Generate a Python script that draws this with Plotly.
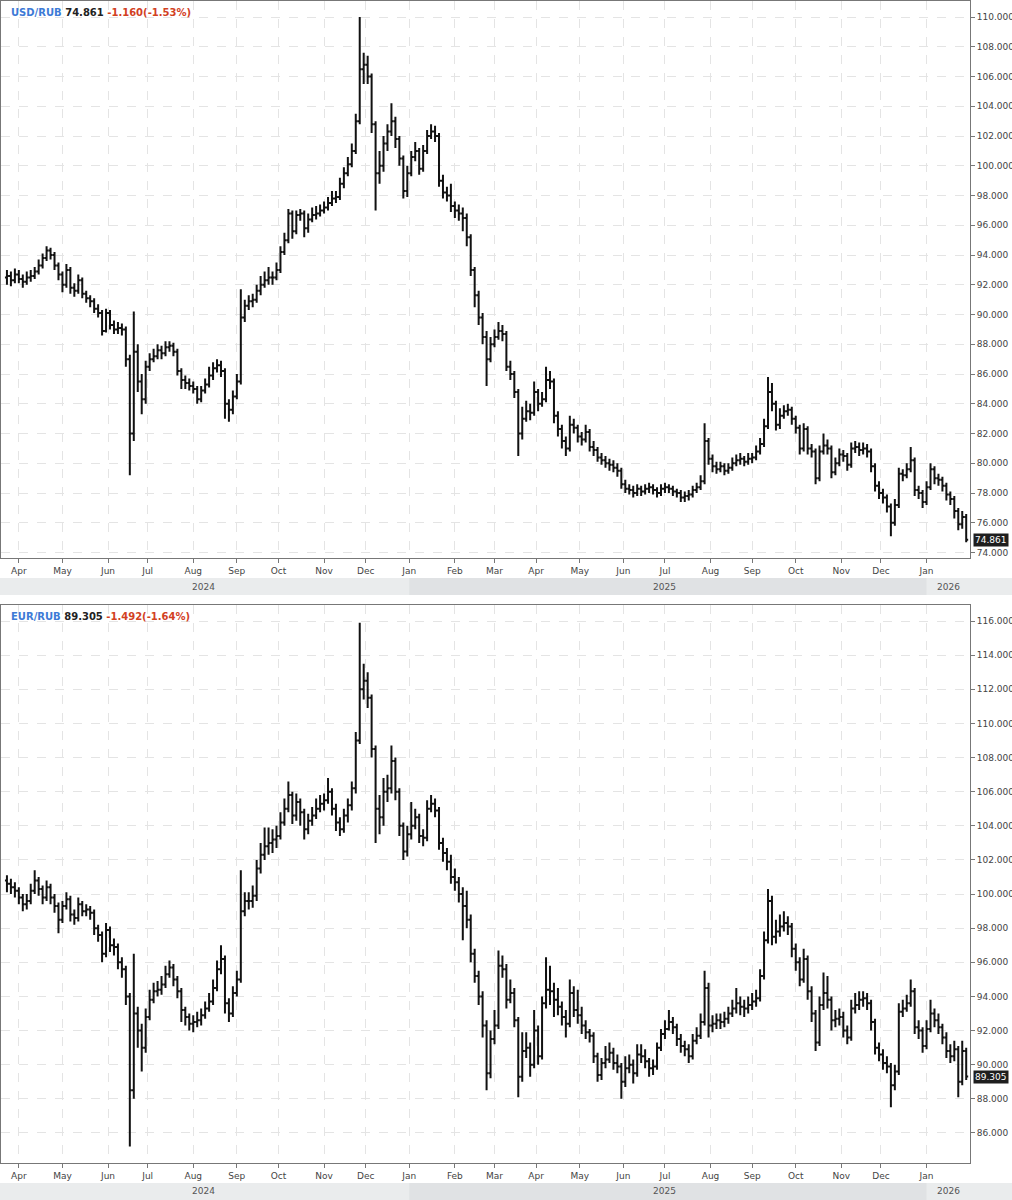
"""USD/RUB and EUR/RUB bar charts"""
import pandas as pd
import plotly.graph_objects as go

FONT = "DejaVu Sans"
END_DATE = "2026-01-29"

# one bar = two trading days
usd_close = [
    92.6, 92.3, 92.7, 92.4, 92.2, 92.5, 92.6, 92.9, 93.3, 93.8,
    94.3, 94.0, 93.3, 92.7, 92.0, 93.0, 91.8, 91.6, 92.3, 91.4,
    91.1, 90.9, 90.4, 90.1, 88.9, 90.1, 89.3, 89.0, 89.1, 89.0,
    87.0, 82.0, 87.5, 85.5, 84.3, 86.5, 87.0, 87.2, 87.6, 87.4,
    87.8, 87.9, 87.5, 86.2, 85.6, 85.4, 85.2, 85.0, 84.3, 84.9,
    85.3, 85.9, 86.4, 86.6, 86.2, 84.0, 83.6, 84.5, 85.5, 89.8,
    90.6, 90.9, 91.0, 91.6, 92.0, 92.3, 92.5, 92.5, 93.0, 94.2,
    95.0, 96.8, 95.6, 96.7, 96.8, 95.8, 96.4, 96.7, 96.8, 97.0,
    97.2, 97.5, 97.8, 97.9, 98.8, 99.5, 100.1, 101.0, 103.0, 106.5,
    106.8, 106.0, 102.8, 99.5, 100.0, 101.5, 102.3, 103.0, 101.8, 100.5,
    98.3, 99.5, 100.6, 101.0, 99.8, 101.0, 102.0, 102.3, 102.0, 99.0,
    98.2, 98.0, 97.3, 97.0, 96.8, 96.5, 95.2, 93.0, 91.3, 89.8,
    88.5, 87.0, 88.0, 88.5, 88.9, 88.7, 86.5, 86.0, 84.8, 82.0,
    83.0, 83.5, 83.4, 84.8, 84.0, 84.3, 85.6, 85.5, 83.2, 82.3,
    81.5, 81.0, 82.6, 82.4, 81.8, 81.6, 82.1, 81.1, 80.9, 80.4,
    80.2, 80.0, 79.9, 79.7, 79.5, 78.6, 78.3, 78.2, 78.0, 78.3,
    78.1, 78.3, 78.4, 78.2, 78.0, 78.3, 78.4, 78.3, 78.1, 78.0,
    77.7, 77.8, 77.9, 78.2, 78.4, 78.8, 81.5, 80.3, 79.8, 79.6,
    79.8, 79.5, 79.7, 80.0, 80.2, 80.3, 80.1, 80.3, 80.4, 80.8,
    81.3, 82.5, 84.8, 84.0, 82.6, 83.2, 83.5, 83.6, 83.0, 82.4,
    81.0, 82.3, 81.0, 80.8, 79.0, 80.8, 81.2, 81.0, 79.4, 80.0,
    80.6, 80.5, 79.9, 81.0, 81.1, 80.9, 81.0, 80.8, 79.8, 78.5,
    78.0, 77.7, 77.1, 76.0, 77.2, 79.3, 79.2, 79.6, 80.2, 78.2,
    78.0, 77.4, 78.4, 79.6, 79.0, 78.9, 78.5, 77.9, 77.6, 76.8,
    75.9, 76.4, 74.861,
]
usd_high = [
    93.0, 92.9, 93.1, 93.0, 92.7, 92.9, 93.0, 93.2, 93.7, 94.1,
    94.6, 94.5, 94.2, 93.5, 92.9, 93.4, 93.2, 92.1, 92.7, 92.5,
    91.6, 91.3, 91.1, 90.7, 90.3, 90.4, 90.3, 89.6, 89.5, 89.4,
    89.2, 87.3, 90.2, 88.0, 86.0, 86.9, 87.4, 87.7, 88.0, 87.9,
    88.2, 88.2, 88.1, 87.7, 86.4, 85.9, 85.7, 85.5, 85.2, 85.2,
    85.7, 86.5, 86.8, 87.0, 86.9, 86.4, 84.3, 84.9, 86.0, 91.7,
    91.0, 91.3, 91.4, 92.0, 92.6, 92.9, 93.2, 92.9, 93.5, 94.6,
    95.5, 97.1, 97.0, 97.0, 97.1, 97.0, 96.8, 97.2, 97.3, 97.4,
    97.6, 97.9, 98.3, 98.3, 99.2, 99.9, 100.6, 101.5, 103.5, 110.0,
    107.6, 107.4, 106.2, 103.0, 101.0, 102.0, 102.8, 104.2, 103.3, 102.0,
    100.7, 100.0, 101.0, 101.6, 101.2, 101.4, 102.4, 102.8, 102.7, 102.2,
    99.4, 98.6, 98.8, 97.6, 97.4, 97.2, 96.8, 95.4, 93.2, 91.6,
    90.1, 88.9, 88.5, 89.0, 89.5, 89.3, 88.9, 86.9, 86.2, 85.0,
    83.8, 84.2, 84.0, 85.5, 85.0, 84.8, 86.5, 86.2, 85.7, 83.5,
    82.6, 81.8, 83.2, 83.0, 82.6, 82.1, 82.6, 82.3, 81.5, 81.1,
    80.7, 80.5, 80.3, 80.2, 80.0, 79.7, 78.9, 78.6, 78.5, 78.6,
    78.5, 78.6, 78.7, 78.6, 78.4, 78.6, 78.7, 78.6, 78.5, 78.3,
    78.2, 78.1, 78.2, 78.5, 78.7, 79.2, 82.7, 81.7, 80.6, 80.1,
    80.1, 80.0, 80.0, 80.4, 80.6, 80.7, 80.5, 80.7, 80.7, 81.2,
    81.7, 83.0, 85.8, 85.4, 84.2, 83.7, 83.9, 84.0, 83.8, 83.2,
    82.6, 82.7, 82.5, 81.3, 81.0, 81.2, 82.0, 81.6, 81.2, 80.4,
    81.0, 80.9, 80.7, 81.4, 81.5, 81.4, 81.4, 81.3, 81.0, 80.0,
    78.8, 78.3, 77.9, 77.3, 77.6, 79.7, 79.6, 80.0, 81.1, 80.4,
    78.5, 78.2, 78.8, 80.0, 79.8, 79.3, 79.1, 78.7, 78.1, 77.8,
    77.0, 76.8, 76.6,
]
usd_low = [
    92.0, 91.9, 92.1, 92.1, 91.8, 92.0, 92.2, 92.4, 92.7, 93.1,
    93.6, 93.7, 93.0, 92.3, 91.5, 91.8, 91.4, 91.2, 91.4, 91.1,
    90.8, 90.5, 90.1, 89.8, 88.6, 88.8, 89.0, 88.7, 88.7, 88.6,
    86.5, 79.2, 81.5, 84.8, 83.3, 84.0, 86.2, 86.8, 87.0, 87.0,
    87.2, 87.5, 87.2, 85.9, 85.0, 85.0, 84.9, 84.7, 84.0, 84.1,
    84.7, 85.1, 85.6, 86.1, 85.8, 83.0, 82.8, 83.3, 84.3, 85.3,
    89.5, 90.3, 90.5, 90.8, 91.3, 91.8, 92.0, 92.0, 92.3, 92.8,
    94.0, 94.8, 95.1, 95.4, 96.3, 95.2, 95.5, 96.2, 96.4, 96.6,
    96.8, 97.0, 97.3, 97.5, 97.7, 98.5, 99.3, 99.9, 100.8, 102.8,
    105.5, 105.5, 102.2, 97.0, 98.8, 99.6, 101.0, 102.0, 101.2, 100.0,
    97.8, 97.9, 99.3, 100.3, 99.4, 99.6, 100.8, 101.8, 101.6, 98.6,
    97.8, 97.6, 96.9, 96.5, 96.3, 95.6, 94.6, 92.6, 90.5, 89.3,
    88.0, 85.2, 86.8, 87.8, 88.3, 88.2, 86.2, 85.6, 84.4, 80.5,
    81.6, 82.8, 82.9, 83.2, 83.5, 83.8, 84.1, 85.0, 82.7, 81.8,
    81.0, 80.5, 80.8, 82.0, 81.4, 81.2, 81.4, 80.8, 80.5, 80.1,
    79.9, 79.7, 79.5, 79.4, 79.1, 78.3, 78.0, 77.9, 77.7, 77.8,
    77.8, 77.9, 78.0, 77.9, 77.7, 77.8, 78.0, 78.0, 77.8, 77.7,
    77.4, 77.4, 77.5, 77.7, 78.0, 78.2, 78.6, 79.9, 79.4, 79.3,
    79.4, 79.2, 79.3, 79.5, 79.8, 79.9, 79.8, 79.9, 80.0, 80.2,
    80.6, 81.1, 82.3, 83.5, 82.2, 82.3, 83.0, 83.2, 82.6, 82.0,
    80.6, 80.8, 80.6, 80.4, 78.6, 78.8, 80.6, 80.6, 79.0, 79.2,
    79.8, 80.1, 79.5, 79.7, 80.7, 80.5, 80.6, 80.4, 79.4, 78.1,
    77.6, 77.3, 76.7, 75.1, 75.8, 77.0, 78.8, 79.0, 79.4, 77.8,
    77.6, 77.0, 77.2, 78.2, 78.6, 78.5, 78.1, 77.5, 77.2, 76.3,
    75.5, 75.6, 74.7,
]

eur_close = [
    100.6, 100.4, 100.2, 99.8, 99.4, 99.6, 100.2, 100.8, 100.3, 99.8,
    100.4, 99.8, 99.3, 98.5, 99.3, 99.7, 98.8, 98.6, 99.4, 99.0,
    99.1, 98.9, 98.0, 97.6, 96.5, 97.9, 97.0, 96.9, 96.0, 95.6,
    94.0, 88.5, 93.0, 92.0, 91.0, 92.8, 93.8, 94.3, 94.4, 94.7,
    95.3, 95.7, 95.0, 94.3, 93.2, 92.8, 92.4, 92.5, 92.6, 92.9,
    93.3, 93.7, 94.5, 95.6, 96.2, 93.6, 93.0, 94.2, 95.0, 99.0,
    99.6, 99.6, 99.9, 101.5, 102.3, 102.8, 103.0, 103.2, 103.4, 104.2,
    105.0, 105.8, 104.6, 105.4, 104.8, 103.8, 104.3, 104.6, 105.0, 105.3,
    105.5, 106.0, 105.0, 104.2, 103.8, 104.6, 105.2, 106.2, 109.0, 112.0,
    112.5, 111.5, 108.5, 105.0, 104.5, 106.0, 106.2, 107.8, 106.0, 104.0,
    102.5, 103.5, 104.0, 104.5, 103.4, 103.3, 105.0, 105.3, 104.9, 103.0,
    102.4, 101.9, 101.0, 100.7, 100.0, 99.3, 98.5, 96.5, 95.2, 94.0,
    92.3, 89.5, 91.5, 92.3, 95.8, 95.6, 93.8, 94.2, 92.6, 89.3,
    90.8, 91.0, 90.0, 92.0, 90.5, 93.6, 94.4, 94.3, 93.8, 93.4,
    92.8, 92.4, 94.2, 93.2, 92.9, 92.3, 91.9, 91.7, 90.5, 89.4,
    90.1, 90.3, 90.7, 90.1, 89.9, 89.0, 89.8, 90.0, 89.5, 90.6,
    90.5, 90.2, 89.8, 89.9, 91.0, 91.8, 92.1, 92.5, 92.2, 91.5,
    91.1, 90.9, 90.5, 91.4, 91.7, 92.5, 94.5, 92.3, 92.4, 92.6,
    92.5, 92.7, 93.0, 93.3, 93.6, 93.4, 93.3, 93.5, 93.7, 93.9,
    95.2, 97.3, 99.6, 97.5, 97.8, 98.1, 98.3, 98.1, 96.8, 96.0,
    95.0, 96.2, 94.3, 93.0, 91.3, 93.5, 94.2, 93.8, 92.6, 92.7,
    92.8, 92.0, 91.6, 93.3, 93.5, 93.8, 93.9, 93.6, 92.5, 91.0,
    90.6, 90.1, 89.9, 88.8, 89.6, 93.1, 93.3, 93.6, 94.3, 92.2,
    92.0, 91.1, 92.1, 93.0, 92.6, 92.2, 91.6, 90.8, 90.5, 90.9,
    89.0, 90.8, 89.305,
]
eur_high = [
    101.1, 100.9, 100.7, 100.4, 100.0, 100.0, 100.6, 101.4, 101.0, 100.5,
    100.8, 100.6, 100.0, 99.5, 99.6, 100.1, 99.9, 99.1, 99.8, 99.6,
    99.4, 99.3, 99.1, 98.2, 97.8, 98.3, 98.1, 97.4, 97.1, 96.3,
    95.8, 94.2, 96.5, 93.4, 92.4, 93.3, 94.4, 94.8, 94.9, 95.2,
    95.8, 96.1, 95.9, 95.2, 94.5, 93.4, 93.0, 92.9, 93.1, 93.3,
    93.7, 94.2, 95.0, 96.1, 97.0, 96.4, 93.9, 94.6, 95.5, 101.4,
    100.1, 100.1, 100.5, 102.0, 103.0, 103.9, 103.9, 103.8, 104.0, 104.8,
    105.6, 106.6, 106.0, 105.9, 105.6, 105.0, 104.7, 105.1, 105.6, 105.8,
    105.9, 106.8, 106.2, 105.3, 104.5, 105.0, 105.6, 106.6, 109.5, 115.9,
    113.5, 113.0, 111.7, 108.7, 105.8, 106.8, 107.0, 108.7, 108.0, 106.2,
    104.2, 104.0, 105.4, 105.0, 104.7, 103.8, 105.5, 105.8, 105.6, 105.1,
    103.3, 102.7, 102.3, 101.5, 101.0, 100.4, 100.2, 98.8, 96.8, 95.5,
    94.3, 92.6, 92.0, 93.2, 96.7, 96.4, 95.9, 95.0, 94.5, 92.8,
    91.9, 91.9, 91.3, 93.2, 92.3, 94.0, 96.3, 95.8, 94.8, 94.5,
    93.7, 93.2, 95.0, 94.6, 94.4, 93.4, 92.6, 92.1, 91.9, 90.7,
    90.4, 91.1, 91.3, 91.0, 90.6, 90.1, 90.5, 90.6, 90.3, 91.2,
    91.2, 90.9, 90.4, 90.3, 91.3, 92.1, 92.6, 93.2, 92.8, 92.4,
    91.8, 91.4, 91.2, 91.8, 92.2, 93.0, 95.5, 94.8, 92.9, 93.0,
    93.0, 93.1, 93.4, 93.8, 94.5, 94.0, 93.8, 94.0, 94.2, 94.4,
    95.6, 97.8, 100.3, 99.9, 98.5, 98.8, 99.0, 98.7, 98.3, 97.1,
    96.3, 96.8, 96.4, 94.6, 93.2, 94.0, 95.4, 95.2, 94.0, 93.2,
    93.3, 93.1, 92.3, 93.8, 94.2, 94.3, 94.3, 94.2, 93.8, 92.7,
    91.3, 90.9, 90.5, 90.1, 90.0, 93.6, 93.8, 94.1, 95.0, 94.5,
    92.6, 92.2, 92.6, 93.8, 93.3, 93.0, 92.4, 91.9, 91.2, 91.4,
    91.1, 91.4, 91.0,
]
eur_low = [
    100.1, 100.0, 99.8, 99.4, 99.0, 99.1, 99.4, 100.0, 99.9, 99.4,
    99.6, 99.4, 98.9, 97.7, 98.3, 99.1, 98.4, 98.2, 98.4, 98.7,
    98.7, 98.5, 97.6, 97.2, 96.0, 96.3, 96.6, 96.4, 95.6, 95.1,
    93.5, 85.2, 88.0, 91.0, 89.6, 90.7, 92.6, 93.6, 94.0, 94.1,
    94.5, 95.1, 94.6, 93.9, 92.5, 92.3, 92.0, 91.9, 92.2, 92.3,
    92.7, 93.1, 93.5, 94.3, 95.3, 93.0, 92.5, 92.8, 94.0, 94.8,
    98.7, 99.1, 99.2, 99.6, 101.2, 102.0, 102.3, 102.4, 102.7, 103.2,
    104.0, 104.8, 104.1, 104.3, 104.0, 103.2, 103.5, 104.0, 104.4, 104.8,
    104.9, 105.3, 104.6, 103.7, 103.4, 103.6, 104.2, 104.9, 105.9, 108.8,
    111.4, 110.9, 108.0, 103.0, 103.5, 104.0, 105.4, 105.9, 105.5, 103.4,
    102.0, 102.2, 103.2, 103.8, 103.0, 102.8, 103.1, 104.8, 104.5, 102.6,
    101.9, 101.4, 100.6, 100.2, 99.5, 97.3, 98.0, 96.0, 94.8, 93.5,
    91.6, 88.5, 89.2, 91.2, 92.1, 95.1, 93.3, 93.6, 92.2, 88.1,
    89.0, 90.4, 89.3, 89.8, 90.0, 90.3, 93.3, 93.5, 92.8, 92.9,
    92.3, 91.6, 92.2, 92.8, 92.4, 91.8, 91.5, 91.3, 90.1, 89.0,
    89.1, 89.8, 90.1, 89.7, 89.5, 88.0, 88.7, 89.5, 88.9, 89.3,
    90.1, 89.8, 89.3, 89.4, 89.7, 90.8, 91.5, 92.0, 91.8, 91.1,
    90.7, 90.5, 90.1, 90.3, 91.2, 91.5, 92.3, 91.6, 91.9, 92.1,
    92.1, 92.2, 92.4, 92.8, 93.0, 92.9, 92.8, 93.0, 93.2, 93.4,
    93.7, 95.0, 97.1, 97.0, 97.1, 97.5, 97.8, 97.6, 96.3, 95.5,
    94.6, 94.8, 93.8, 92.5, 90.8, 91.1, 93.2, 93.3, 92.0, 92.2,
    92.3, 91.6, 91.2, 91.4, 93.0, 93.2, 93.4, 93.2, 92.0, 90.6,
    90.2, 89.7, 89.5, 87.5, 88.5, 89.4, 92.8, 93.1, 93.4, 91.8,
    91.5, 90.7, 90.9, 91.9, 92.2, 91.8, 91.2, 90.4, 90.1, 90.2,
    88.1, 88.8, 89.1,
]

usd_first_open = 92.5
eur_first_open = 100.8

# header quotes
usd_last, usd_change, usd_change_pct = 74.861, -1.160, -1.53
eur_last, eur_change, eur_change_pct = 89.305, -1.492, -1.64

year_labels = ["2024", "2025", "2026"]
year_label_dates = ["2024-08-08", "2025-07-01", "2026-01-16"]

X_RANGE = ["2024-03-19", "2026-01-30 22:00"]


def make_dates(n: int) -> pd.DatetimeIndex:
    """每根K线两个交易日"""
    return pd.bdate_range(end=END_DATE, periods=2 * n - 1)[::2]


def add_bars(fig, first_open, close, high, low, xaxis, yaxis):
    """画OHLC柱"""
    assert len(close) == len(high) == len(low)
    opens = [first_open] + close[:-1]
    line = dict(color="#111111", width=2)
    fig.add_trace(go.Ohlc(
        x=make_dates(len(close)),
        open=opens,
        high=high,
        low=low,
        close=close,
        xaxis=xaxis,
        yaxis=yaxis,
        increasing=dict(line=line),
        decreasing=dict(line=line),
        tickwidth=0.5,
        showlegend=False,
        hoverinfo="skip",
    ))


def x_axis(anchor):
    return dict(
        type="date",
        anchor=anchor,
        range=X_RANGE,
        rangebreaks=[dict(bounds=["sat", "mon"])],
        rangeslider=dict(visible=False),
        dtick="M1",
        tick0="2024-01-01",
        tickformat="%b",
        ticks="outside",
        ticklen=4,
        tickcolor="#777777",
        showgrid=True,
        gridcolor="#e4e4e4",
        griddash="dash",
        showline=True,
        linecolor="#777777",
        mirror=True,
        automargin=False,
        tickfont=dict(family=FONT, size=9, color="#444444"),
    )


def y_axis(anchor, domain, rng):
    return dict(
        anchor=anchor,
        domain=domain,
        range=rng,
        side="right",
        dtick=2,
        tick0=0,
        tickformat=".3f",
        ticks="outside",
        ticklen=4,
        tickcolor="#777777",
        showgrid=True,
        gridcolor="#e4e4e4",
        griddash="dash",
        showline=True,
        linecolor="#777777",
        mirror=True,
        zeroline=False,
        automargin=False,
        tickfont=dict(family=FONT, size=9, color="#444444"),
    )


def header(name, last, change, pct, xref, yref):
    text = (
        f"<b><span style='color:#3d7ad6'>{name}</span> {last:.3f} "
        f"<span style='color:#d2411f'>{change:.3f}({pct:.2f}%)</span></b>"
    )
    return dict(
        text=text, xref=f"{xref} domain", yref=f"{yref} domain",
        x=0, y=1, xanchor="left", yanchor="top", xshift=8, yshift=-4,
        showarrow=False, font=dict(family=FONT, size=10, color="#222222"),
    )


def price_tag(last, xref, yref):
    return dict(
        text=f"{last:.3f}", xref=f"{xref} domain", yref=yref,
        x=1, y=last, xanchor="left", yanchor="middle", xshift=3,
        showarrow=False, bgcolor="#1e1e1e", borderpad=1,
        font=dict(family=FONT, size=9, color="#ffffff"),
    )


fig = go.Figure()
add_bars(fig, usd_first_open, usd_close, usd_high, usd_low, "x", "y")
add_bars(fig, eur_first_open, eur_close, eur_high, eur_low, "x2", "y2")

# year bands under each panel (paper y)
bands = [(0.4888, 0.5034, "x"), (-0.0318, -0.0172, "x2")]
shapes = []
annotations = []
for y0, y1, xr in bands:
    shapes.append(dict(type="rect", xref="paper", yref="paper",
                       x0=-0.01, x1=1.1, y0=y0, y1=y1,
                       fillcolor="#eaeced", line_width=0, layer="below"))
    shapes.append(dict(type="rect", xref=xr, yref="paper",
                       x0="2025-01-01", x1="2026-01-01", y0=y0, y1=y1,
                       fillcolor="#e0e2e4", line_width=0, layer="below"))
    for label, d in zip(year_labels, year_label_dates):
        annotations.append(dict(text=label, xref=xr, yref="paper", x=d,
                                y=(y0 + y1) / 2, yanchor="middle",
                                showarrow=False,
                                font=dict(family=FONT, size=9, color="#555555")))

annotations.append(header("USD/RUB", usd_last, usd_change, usd_change_pct, "x", "y"))
annotations.append(header("EUR/RUB", eur_last, eur_change, eur_change_pct, "x2", "y2"))
annotations.append(price_tag(usd_close[-1], "x", "y"))
annotations.append(price_tag(eur_close[-1], "x2", "y2"))

fig.update_layout(
    width=1012,
    height=1200,
    margin=dict(l=1, r=42, t=1, b=37, autoexpand=False),
    paper_bgcolor="white",
    plot_bgcolor="white",
    font=dict(family=FONT, size=9, color="#333333"),
    xaxis=x_axis("y"),
    xaxis2=x_axis("y2"),
    yaxis=y_axis("x", [0.5207, 1.0], [73.64, 111.08]),
    yaxis2=y_axis("x2", [0.0, 0.4802], [84.24, 116.94]),
    shapes=shapes,
    annotations=annotations,
    showlegend=False,
)

# page body has a default 8px margin; drop it so the figure sits at 0,0
fig.write_html(
    "out.html",
    config={"displayModeBar": False},
    post_script="document.body.style.margin='0';",
)
